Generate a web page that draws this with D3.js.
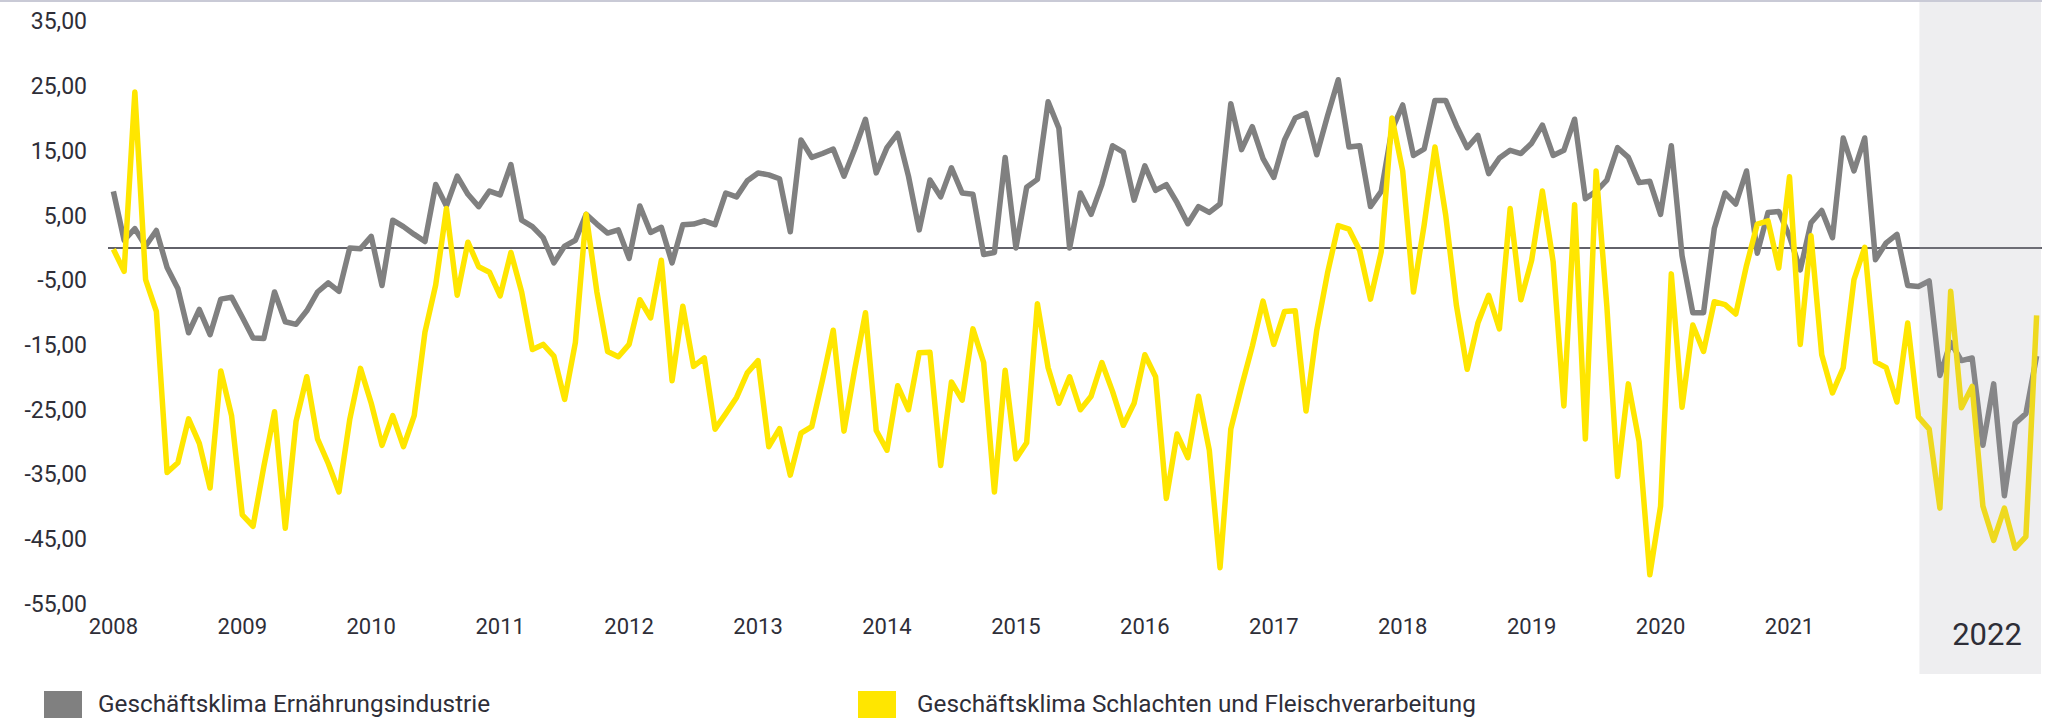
<!DOCTYPE html>
<html>
<head>
<meta charset="utf-8">
<script src="https://cdn.jsdelivr.net/npm/d3@7"></script>
<style>
  html, body { margin: 0; padding: 0; background: #fff; }
  svg { display: block; font-family: Roboto, "Open Sans", sans-serif; }
</style>
</head>
<body>
<div id="chart"></div>
<script>
// monthly index values, Jan 2008 - Dec 2022
var ernaehrung = [
  8.75, 1.2, 3.0, 0.3, 2.7, -3.0, -6.25, -13.1, -9.5, -13.4, -7.9, -7.6,
  -10.7, -13.9, -14.0, -6.8, -11.4, -11.8, -9.7, -6.8, -5.4, -6.7, 0.0, -0.1,
  1.8, -5.8, 4.3, 3.3, 2.1, 1.0, 9.8, 6.5, 11.1, 8.3, 6.4, 8.8,
  8.2, 12.9, 4.3, 3.3, 1.6, -2.3, 0.3, 1.2, 5.2, 3.7, 2.3, 2.8,
  -1.6, 6.5, 2.4, 3.2, -2.3, 3.6, 3.7, 4.2, 3.6, 8.5, 7.9, 10.4,
  11.6, 11.3, 10.7, 2.5, 16.7, 14.0, 14.6, 15.3, 11.1, 15.3, 19.9, 11.6,
  15.5, 17.7, 11.1, 2.8, 10.5, 7.9, 12.4, 8.5, 8.3, -1.0, -0.7, 14.0,
  0.0, 9.4, 10.6, 22.6, 18.5, 0.0, 8.5, 5.2, 9.8, 15.8, 14.8, 7.4,
  12.7, 8.9, 9.8, 7.0, 3.75, 6.4, 5.5, 6.8, 22.3, 15.2, 18.75, 13.8,
  10.9, 16.7, 20.1, 20.8, 14.4, 20.4, 26.0, 15.6, 15.8, 6.4, 8.75, 18.3,
  22.1, 14.3, 15.3, 22.8, 22.8, 18.9, 15.5, 17.4, 11.5, 13.9, 15.1, 14.6,
  16.2, 19.0, 14.3, 15.1, 19.9, 7.6, 8.75, 10.5, 15.5, 14.0, 10.1, 10.3,
  5.2, 15.8, -1.2, -10.0, -10.0, 3.0, 8.5, 6.8, 11.9, -0.8, 5.5, 5.65,
  1.8, -3.4, 3.9, 5.8, 1.6, 17.0, 11.9, 17.0, -1.8, 0.8, 2.1, -5.8,
  -5.95, -5.1, -19.7, -14.6, -17.4, -17.0, -30.5, -21.0, -38.3, -27.1, -25.6, -16.7
];

var schlachten = [
  -0.2, -3.6, 24.1, -4.9, -9.8, -34.7, -33.2, -26.4, -30.2, -37.1, -19.0, -25.9,
  -41.25, -43.0, -33.8, -25.3, -43.3, -26.8, -19.9, -29.5, -33.3, -37.7, -26.5, -18.6,
  -24.0, -30.5, -25.9, -30.7, -25.9, -13.0, -5.7, 6.1, -7.3, 0.9, -2.9, -3.75,
  -7.4, -0.7, -6.8, -15.7, -14.9, -16.7, -23.4, -14.6, 5.2, -6.8, -16.0, -16.8,
  -14.9, -8.0, -10.8, -1.9, -20.5, -9.0, -18.3, -17.0, -28.0, -25.6, -23.1, -19.3,
  -17.4, -30.7, -27.9, -35.1, -28.6, -27.6, -20.4, -12.7, -28.3, -18.75, -10.0, -28.2,
  -31.25, -21.3, -25.0, -16.2, -16.1, -33.6, -20.7, -23.5, -12.5, -17.7, -37.7, -18.9,
  -32.6, -30.1, -8.6, -18.5, -24.0, -19.9, -25.0, -22.9, -17.7, -22.2, -27.4, -24.0,
  -16.5, -19.9, -38.7, -28.75, -32.4, -22.9, -31.25, -49.4, -28.0, -21.4, -15.2, -8.2,
  -14.9, -9.8, -9.7, -25.2, -12.7, -3.9, 3.45, 2.9, -0.4, -7.9, -0.6, 20.1,
  11.9, -6.8, 3.6, 15.6, 5.1, -8.9, -18.75, -11.6, -7.3, -12.5, 6.1, -8.0,
  -1.9, 8.8, -2.1, -24.4, 6.7, -29.5, 11.9, -9.0, -35.3, -21.0, -29.9, -50.5,
  -39.9, -4.0, -24.6, -11.9, -16.0, -8.3, -8.75, -10.2, -2.7, 3.7, 4.2, -3.1,
  11.0, -14.9, 1.9, -16.5, -22.4, -18.5, -4.9, 0.1, -17.6, -18.5, -23.8, -11.6,
  -26.1, -28.0, -40.2, -6.7, -24.7, -21.4, -39.9, -45.2, -40.2, -46.4, -44.6, -10.4
];

var yTicks = [35, 25, 15, 5, -5, -15, -25, -35, -45, -55];
var yearLabels = ['2008', '2009', '2010', '2011', '2012', '2013', '2014',
  '2015', '2016', '2017', '2018', '2019', '2020', '2021'];
var highlightYear = '2022';
var seriesNames = ['Geschäftsklima Ernährungsindustrie',
  'Geschäftsklima Schlachten und Fleischverarbeitung'];

var W = 2051, H = 718;
var textColor = '#2e2e38';

// one category per month
var months = d3.timeMonth.range(new Date(2008, 0, 1), new Date(2023, 0, 1));

var x = d3.scaleBand()
  .domain(months.map(function(d, i){ return i; }))
  .range([108, 2042]);
var xc = function(i){ return x(i) + x.bandwidth() / 2; };

var y = d3.scaleLinear().domain([-55, 35]).range([603.9, 21.5]);

var svg = d3.select('#chart').append('svg')
  .attr('width', W)
  .attr('height', H);

svg.append('rect').attr('width', W).attr('height', H).attr('fill', '#fff');

// thin rule along the top edge
svg.append('line')
  .attr('x1', 0).attr('x2', 2042)
  .attr('y1', 1).attr('y2', 1)
  .attr('stroke', '#c9cad6').attr('stroke-width', 2);

// y axis labels (German decimal comma)
var fmt = d3.formatLocale({decimal: ',', thousands: '.', grouping: [3], currency: ['', '€'], minus: '-'}).format('.2f');
var yAxis = d3.axisLeft(y).tickValues(yTicks).tickSize(0).tickPadding(0).tickFormat(fmt);
svg.append('g')
  .attr('transform', 'translate(87,0)')
  .call(yAxis)
  .call(function(g){
    g.select('.domain').remove();
    g.selectAll('text')
      .attr('fill', textColor)
      .style('font-size', '23px')
      .style('font-family', 'Roboto, sans-serif');
  });

// year labels sit under January of each year
var xAxis = d3.axisBottom(x)
  .tickValues(yearLabels.map(function(d, k){ return k * 12; }))
  .tickSize(0).tickPadding(0)
  .tickFormat(function(i){ return yearLabels[i / 12]; });
svg.append('g')
  .attr('transform', 'translate(0,618)')
  .call(xAxis)
  .call(function(g){
    g.select('.domain').remove();
    g.selectAll('text')
      .attr('fill', textColor)
      .style('font-size', '22px')
      .style('font-family', 'Roboto, sans-serif');
  });

// zero line
svg.append('line')
  .attr('x1', 108).attr('x2', 2042)
  .attr('y1', y(0)).attr('y2', y(0))
  .attr('stroke', textColor).attr('stroke-width', 1.5);

var line = function(values){
  return d3.line()
    .x(function(d, i){ return xc(i); })
    .y(function(d){ return y(d); })(values);
};

svg.append('path')
  .attr('d', line(ernaehrung))
  .attr('fill', 'none')
  .attr('stroke', '#808080')
  .attr('stroke-width', 5.5)
  .attr('stroke-linejoin', 'round');

svg.append('path')
  .attr('d', line(schlachten))
  .attr('fill', 'none')
  .attr('stroke', '#ffe600')
  .attr('stroke-width', 5.5)
  .attr('stroke-linejoin', 'round');

// shaded 2022 block, laid over the lines
var bandStart = xc(168) + 1;
svg.append('rect')
  .attr('x', bandStart)
  .attr('y', 2)
  .attr('width', 2041 - bandStart)
  .attr('height', 672)
  .attr('fill', '#a0a0ae')
  .attr('fill-opacity', 0.18);

svg.append('text')
  .attr('x', 1987).attr('y', 645)
  .attr('text-anchor', 'middle')
  .attr('fill', textColor)
  .style('font-size', '31px')
  .text(highlightYear);

// legend
var legend = [
  {name: seriesNames[0], color: '#808080', x: 44, tx: 98},
  {name: seriesNames[1], color: '#ffe600', x: 858, tx: 917}
];
var lg = svg.selectAll('.legend').data(legend).enter().append('g').attr('class', 'legend');
lg.append('rect')
  .attr('x', function(d){ return d.x; })
  .attr('y', 691)
  .attr('width', 38).attr('height', 38)
  .attr('fill', function(d){ return d.color; });
lg.append('text')
  .attr('x', function(d){ return d.tx; })
  .attr('y', 712)
  .attr('fill', textColor)
  .style('font-size', '24.3px')
  .text(function(d){ return d.name; });
</script>
</body>
</html>
